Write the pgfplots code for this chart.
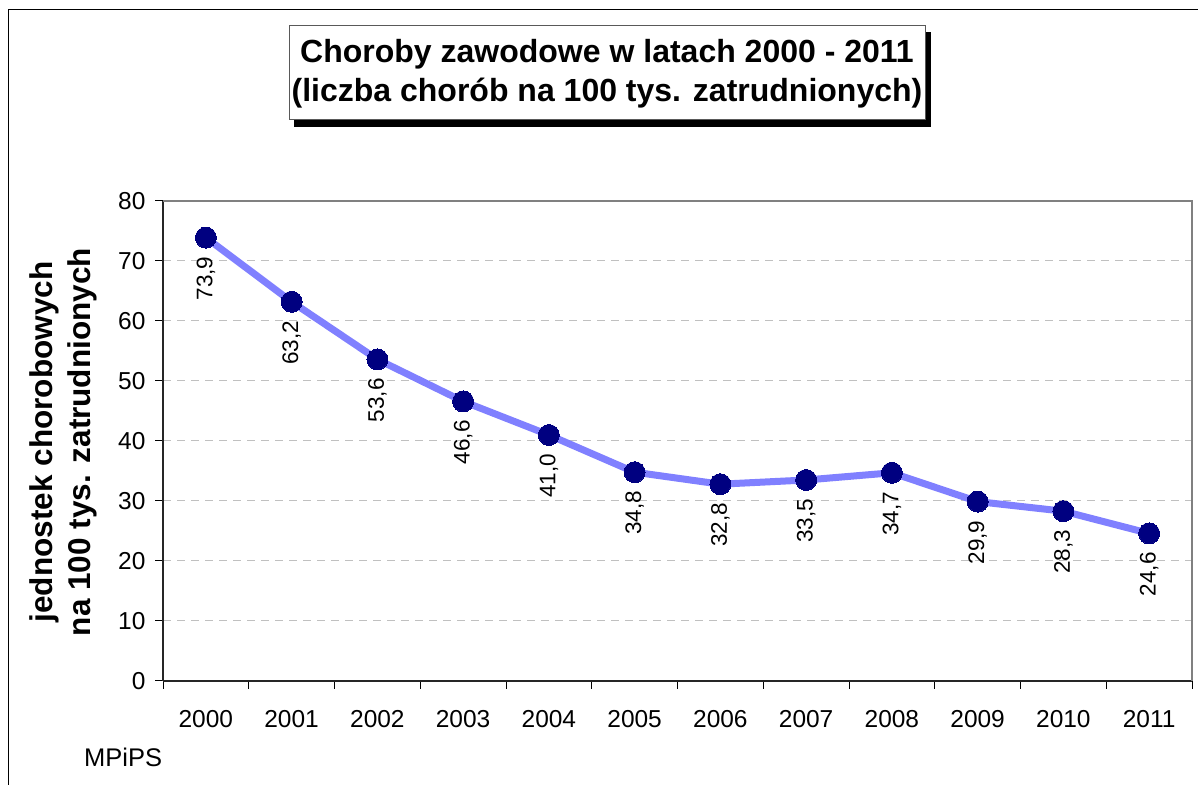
\documentclass[border=0pt]{standalone}
\usepackage{pgfplots}
\pgfplotsset{compat=1.18}
\usepackage{pgfplotstable}
\usepackage{fontspec}
\setmainfont{Liberation Sans}
\definecolor{linecol}{RGB}{128,128,255}
\definecolor{markcol}{RGB}{0,0,128}
\definecolor{gridcol}{RGB}{192,192,192}
\definecolor{framecol}{RGB}{128,128,128}
\pgfplotstableread{
x y label
0 73.9 73,9
1 63.2 63,2
2 53.6 53,6
3 46.6 46,6
4 41.0 41,0
5 34.8 34,8
6 32.8 32,8
7 33.5 33,5
8 34.7 34,7
9 29.9 29,9
10 28.3 28,3
11 24.6 24,6
}\datatable
\begin{document}
\begin{tikzpicture}
\begin{scope}[x=1bp,y=1bp]
\path[use as bounding box] (0,0) rectangle (1198,785);
\draw[black, line width=1bp] (8,-5) -- (8,775) -- (1205,775);
\fill[black] (294,658) rectangle (931,753);
\draw[fill=white, draw=black!65, line width=1bp] (289,665) rectangle (925,759);
\node[align=center, inner sep=0pt, font=\fontsize{32bp}{39bp}\selectfont\bfseries] at (607,711.6) {Choroby zawodowe w latach 2000 - 2011\\(liczba chorób na 100 tys. zatrudnionych)};
\node[rotate=90, align=center, font=\fontsize{31.5bp}{38bp}\selectfont\bfseries] at (63.5,343) {jednostek chorobowych\\na 100 tys. zatrudnionych};
\node[anchor=base west, inner sep=0pt, font=\fontsize{25.5bp}{30bp}\selectfont] at (84,18) {MPiPS};
\end{scope}
\begin{axis}[
  at={(163bp,104bp)}, anchor=south west,
  scale only axis, width=1029bp, height=480bp,
  xmin=-0.5, xmax=11.5, ymin=0, ymax=80,
  axis x line*=bottom, axis y line*=left,
  axis line style={black!85, line width=2bp},
  xtick={0,...,11},
  xticklabels={2000,2001,2002,2003,2004,2005,2006,2007,2008,2009,2010,2011},
  minor xtick={-0.5,0.5,...,11.5},
  major x tick style={draw=none},
  ytick={0,10,...,80},
  tick align=outside,
  major tick length=8bp, minor tick length=8bp,
  tick style={black, line width=1bp},
  ymajorgrids,
  major grid style={gridcol, dash pattern=on 8bp off 6bp, line width=1bp},
  /pgf/number format/assume math mode=true,
  ticklabel style={font=\fontsize{24.5bp}{29bp}\selectfont},
  xticklabel style={yshift=-18bp},
  yticklabel style={xshift=-6bp},
  clip=false,
]
\draw[framecol, line width=2bp] (rel axis cs:0,1) -- (rel axis cs:1,1) -- (rel axis cs:1,0);
\addplot[
  color=linecol, line width=7bp,
  mark=*, mark size=10.5bp,
  mark options={fill=markcol, draw=markcol, line width=0pt},
  point meta=explicit symbolic,
  nodes near coords,
  every node near coord/.append style={text=black, anchor=east, rotate=90, inner sep=19bp, font=\fontsize{22.5bp}{26bp}\selectfont},
] table[x=x, y=y, meta=label] {\datatable};
\end{axis}
\end{tikzpicture}
\end{document}
